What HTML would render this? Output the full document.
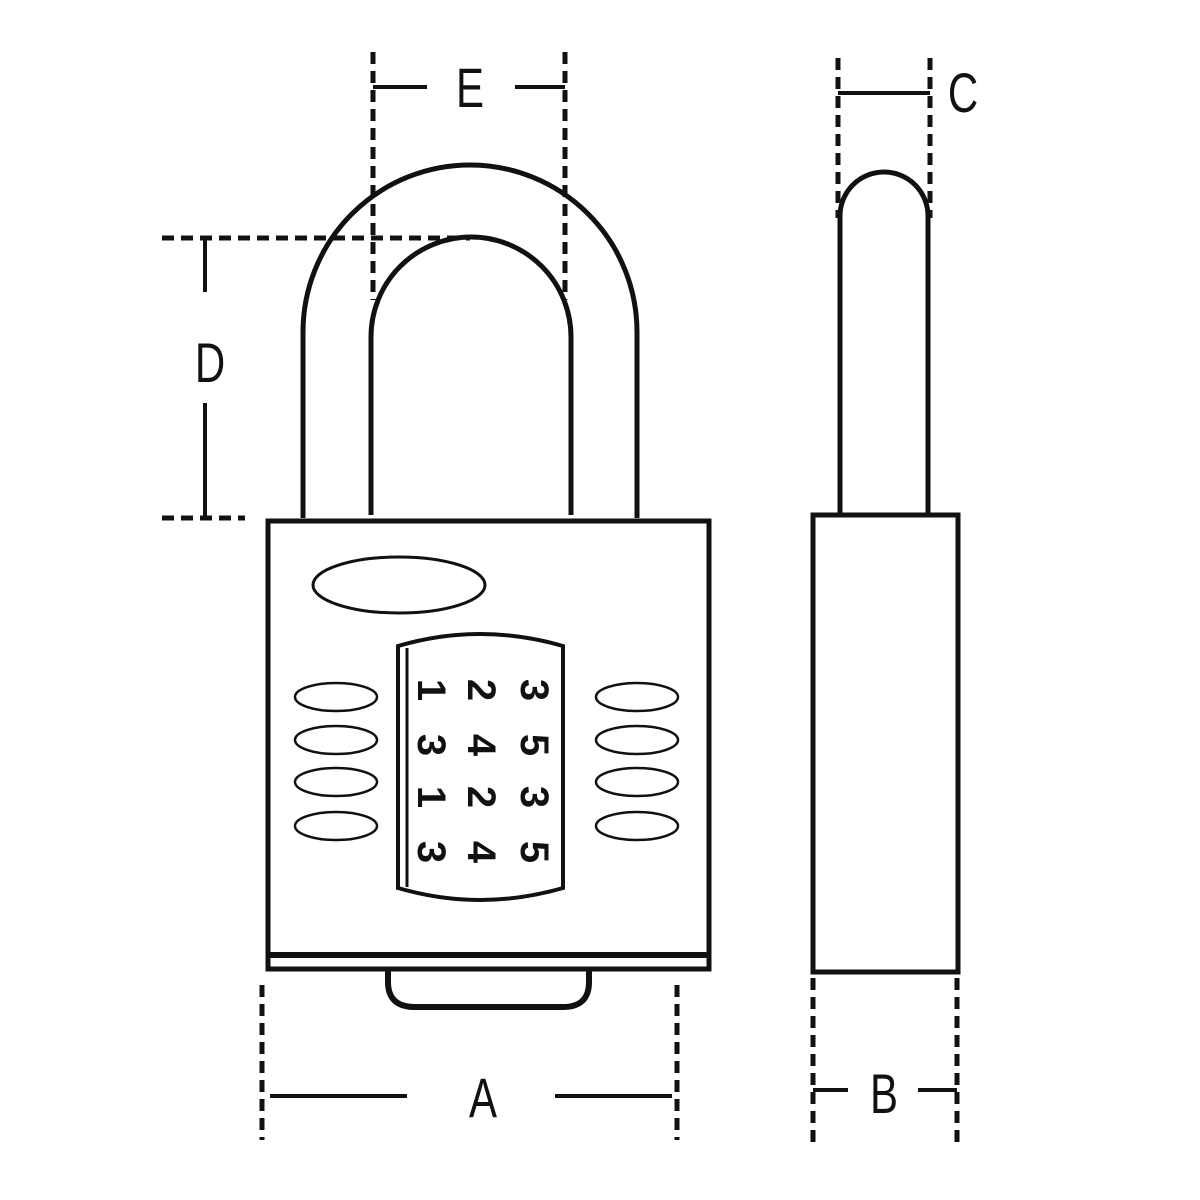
<!DOCTYPE html>
<html><head><style>html,body{margin:0;padding:0;background:#fff}svg{display:block}</style></head>
<body>
<svg width="1200" height="1200" viewBox="0 0 1200 1200" xmlns="http://www.w3.org/2000/svg">
<g fill="none" stroke="#111" stroke-width="5">
<!-- shackle front -->
<path d="M303 518 V332 A167 167 0 0 1 637 332 V518"/>
<path d="M371 515 V337 A100 100 0 0 1 571 337 V515"/>
<!-- body -->
<rect x="268" y="521" width="441" height="448"/>
<line x1="268" y1="955" x2="709" y2="955" stroke-width="6"/>
<path d="M388 971 V982 Q388 1007 415 1007 H563 Q589 1007 589 982 V971" stroke-width="6"/>
<ellipse cx="399" cy="585" rx="86" ry="28" stroke-width="3"/>
<g stroke-width="2.5">
<ellipse cx="336" cy="697" rx="41" ry="14"/><ellipse cx="336" cy="740" rx="41" ry="14"/>
<ellipse cx="336" cy="782" rx="41" ry="14"/><ellipse cx="336" cy="826" rx="41" ry="14"/>
<ellipse cx="637" cy="697" rx="41" ry="14"/><ellipse cx="637" cy="740" rx="41" ry="14"/>
<ellipse cx="637" cy="782" rx="41" ry="14"/><ellipse cx="637" cy="826" rx="41" ry="14"/>
</g>
<path d="M398 646 Q480 622 563 646 V888 Q480 912 398 888 Z" stroke-width="4"/>
<line x1="407" y1="648" x2="407" y2="887" stroke-width="3"/>
<!-- side view -->
<path d="M840 515 V216 A44 44 0 0 1 928 216 V515"/>
<rect x="813" y="515" width="145" height="457"/>
<!-- dimension lines -->
<g stroke-width="5" stroke-dasharray="12 7">
<line x1="373" y1="52" x2="373" y2="300"/><line x1="565" y1="52" x2="565" y2="300"/>
<line x1="838" y1="58" x2="838" y2="218"/><line x1="930" y1="58" x2="930" y2="218"/>
<line x1="162" y1="238" x2="470" y2="238"/><line x1="162" y1="518" x2="245" y2="518"/>
<line x1="262" y1="985" x2="262" y2="1140"/><line x1="677" y1="985" x2="677" y2="1140"/>
<line x1="813" y1="978" x2="813" y2="1145"/><line x1="957" y1="978" x2="957" y2="1145"/>
</g>
<g stroke-width="4">
<line x1="373" y1="87" x2="427" y2="87"/><line x1="515" y1="87" x2="565" y2="87"/>
<line x1="838" y1="93" x2="930" y2="93"/>
<line x1="205" y1="238" x2="205" y2="292"/><line x1="205" y1="403" x2="205" y2="518"/>
<line x1="270" y1="1096" x2="407" y2="1096"/><line x1="555" y1="1096" x2="672" y2="1096"/>
<line x1="813" y1="1090" x2="848" y2="1090"/><line x1="918" y1="1090" x2="957" y2="1090"/>
</g>
</g>
<g font-family="Liberation Sans, sans-serif" font-size="56" fill="#111" text-anchor="middle">
<text transform="translate(470,107) scale(0.75,1)">E</text>
<text transform="translate(963,112) scale(0.75,1)">C</text>
<text transform="translate(210,382) scale(0.75,1)">D</text>
<text transform="translate(483,1117) scale(0.75,1)">A</text>
<text transform="translate(884,1113) scale(0.75,1)">B</text>
</g>
<g font-family="Liberation Sans, sans-serif" font-size="40" font-weight="bold" fill="#111" text-anchor="middle">
<text transform="translate(432,690) rotate(90)" dy="14">1</text>
<text transform="translate(482,690) rotate(90)" dy="14">2</text>
<text transform="translate(535,690) rotate(90)" dy="14">3</text>
<text transform="translate(432,745) rotate(90)" dy="14">3</text>
<text transform="translate(482,745) rotate(90)" dy="14">4</text>
<text transform="translate(535,745) rotate(90)" dy="14">5</text>
<text transform="translate(432,797) rotate(90)" dy="14">1</text>
<text transform="translate(482,797) rotate(90)" dy="14">2</text>
<text transform="translate(535,797) rotate(90)" dy="14">3</text>
<text transform="translate(432,852) rotate(90)" dy="14">3</text>
<text transform="translate(482,852) rotate(90)" dy="14">4</text>
<text transform="translate(535,852) rotate(90)" dy="14">5</text>
</g>
</svg>
</body></html>
